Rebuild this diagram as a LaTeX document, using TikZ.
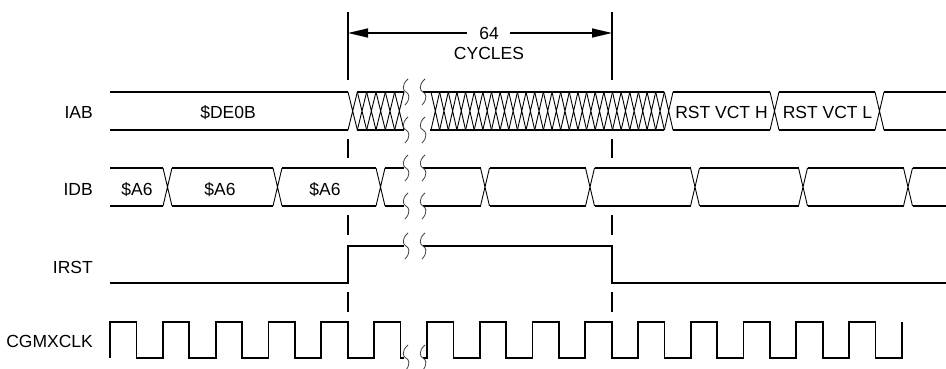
\documentclass[tikz,border=0pt]{standalone}
\usepackage{fontspec}
\setmainfont{Liberation Sans}
\usetikzlibrary{arrows.meta}
\newcommand\squigat[2]{\draw[squig] ({#1+2},{#2-13}) .. controls ({#1-5},{#2-7}) and ({#1-3},{#2-1}) .. ({#1},{#2}) .. controls ({#1+3},{#2+1}) and ({#1+5},{#2+7}) .. ({#1-1},{#2+13});}
\newcommand\busx[4]{\draw[xl] ({#1},{#3}) -- ({#2},{#4}) ({#1},{#4}) -- ({#2},{#3});}
\newcommand\busseg[4]{\draw[sig] ({#1},{#3}) -- ({#2},{#3}) ({#1},{#4}) -- ({#2},{#4});}
\begin{document}
\begin{tikzpicture}[x=1pt,y=-1pt,
  sig/.style={line width=1.8pt},
  xl/.style={line width=0.9pt},
  guide/.style={line width=1.3pt},
  squig/.style={line width=0.8pt, black!75},
  lbl/.style={anchor=base east, inner sep=0pt, font=\fontsize{17.5}{20}\selectfont},
  txt/.style={anchor=base, inner sep=0pt, font=\fontsize{17.5}{20}\selectfont},
  arr/.style={line width=1.3pt, -{Triangle[length=20pt,width=9pt]}}
]
\useasboundingbox (0,0) rectangle (946,369);

% labels
\node[lbl] (lIAB) at (93,118.5) {IAB};
\node[lbl] (lIDB) at (93,195) {IDB};
\node[lbl] (lIRST) at (93,273) {IRST};
\node[lbl] (lCLK) at (93,347.7) {CGMXCLK};

% 64 cycles dimension
\node[txt] (n64) at (489,40) {64};
\node[txt] (ncyc) at (489,60) {CYCLES};
\coordinate (aL) at (348,33);
\coordinate (aR) at (612,33);
\coordinate (aLe) at (467,33);
\coordinate (aRs) at (510,33);
\draw[arr] (aLe) -- (aL);
\draw[arr] (aRs) -- (aR);

% guide lines
\foreach \gx in {348,612}{
  \draw[guide] (\gx,12) -- (\gx,80) (\gx,139) -- (\gx,158) (\gx,215) -- (\gx,235) (\gx,292) -- (\gx,312);
}

% IAB
\busseg{110}{348}{92}{130}
\busseg{357}{404}{92}{130}
\draw[sig] (423,92) -- (664,92) (430,130) -- (664,130);
\foreach \i in {0,...,5}{\busx{348+\i*9.333}{348+(\i+1)*9.333}{92}{130}}
\foreach \i in {0,...,27}{\busx{431+\i*8.643}{431+(\i+1)*8.643}{92}{130}}
\busseg{673}{770}{92}{130}
\busx{770}{779}{92}{130}
\busseg{779}{875}{92}{130}
\busx{875}{884}{92}{130}
\busseg{884}{946}{92}{130}
\node[txt] (tDE) at (228,118.5) {\$DE0B};
\node[txt] (tH) at (721.5,118.5) {RST VCT H};
\node[txt] (tL) at (827.5,118.5) {RST VCT L};

% IDB
\foreach \c in {167.5,277.5,380.5,485,590,695,803,908}{\busx{\c-4.5}{\c+4.5}{168}{206}}
\busseg{110}{163}{168}{206}
\busseg{172}{273}{168}{206}
\busseg{282}{376}{168}{206}
\busseg{385}{404}{168}{206}
\busseg{423}{480.5}{168}{206}
\busseg{489.5}{585.5}{168}{206}
\busseg{594.5}{690.5}{168}{206}
\busseg{699.5}{798.5}{168}{206}
\busseg{807.5}{903.5}{168}{206}
\busseg{912.5}{946}{168}{206}
\node[txt] (tA1) at (137,195) {\$A6};
\node[txt] (tA2) at (220,195) {\$A6};
\node[txt] (tA3) at (325,195) {\$A6};

% IRST
\draw[sig] (110,283) -- (348,283) -- (348,246) -- (404,246);
\draw[sig] (423,246) -- (612,246) -- (612,283) -- (946,283);

% CGMXCLK
\draw[sig] (110,358) foreach \r in {110,162.8,215.6,268.4,321.2,374}{ -- (\r,358) -- (\r,322) -- ({\r+26.4},322) -- ({\r+26.4},358) } -- (404,358);
\draw[sig] (423,358) foreach \r in {427,479.75,532.5,585.25,638,690.75,743.5,796.25,849}{ -- (\r,358) -- (\r,322) -- ({\r+26.4},322) -- ({\r+26.4},358) } -- (901.75,358) -- (901.75,322);

% break marks
\foreach \sx in {406,423}{
  \foreach \sy in {92,130,168,206,246,358}{\squigat{\sx}{\sy}}
}
\end{tikzpicture}
\end{document}
